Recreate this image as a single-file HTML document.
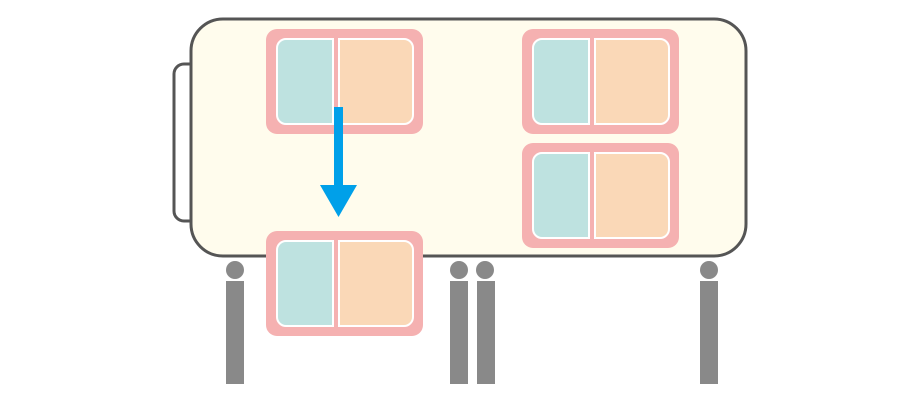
<!DOCTYPE html>
<html><head><meta charset="utf-8"><style>html,body{margin:0;padding:0;background:#fff}svg{display:block}</style></head>
<body>
<svg width="920" height="400" viewBox="0 0 920 400" xmlns="http://www.w3.org/2000/svg">
<defs>
<g id="box">
<rect x="0" y="0" width="157" height="105" rx="11" fill="#f5b1b1"/>
<path d="M67,10 V95 H20 A9,9 0 0 1 11,86 V19 A9,9 0 0 1 20,10 Z" fill="#bee2e0" stroke="#fff" stroke-width="2"/>
<path d="M73,10 H138 A9,9 0 0 1 147,19 V86 A9,9 0 0 1 138,95 H73 Z" fill="#fad8b7" stroke="#fff" stroke-width="2"/>
</g>
</defs>
<path d="M191,64 H184 A10,10 0 0 0 174,74 V211 A10,10 0 0 0 184,221 H191" fill="none" stroke="#555" stroke-width="3"/>
<rect x="191" y="19" width="555" height="237" rx="32" fill="#fffced" stroke="#555" stroke-width="3"/>
<use href="#box" x="266" y="29"/>
<use href="#box" x="522" y="29"/>
<use href="#box" x="522" y="143"/>
<use href="#box" x="266" y="231"/>
<rect x="334" y="107" width="9" height="79" fill="#00a0e9"/>
<polygon points="320,185 357,185 338.5,217" fill="#00a0e9"/>
<g fill="#898989">
<circle cx="235" cy="270" r="9"/><rect x="226" y="281" width="18" height="103"/>
<circle cx="459" cy="270" r="9"/><rect x="450" y="281" width="18" height="103"/>
<circle cx="485" cy="270" r="9"/><rect x="477" y="281" width="18" height="103"/>
<circle cx="709" cy="270" r="9"/><rect x="700" y="281" width="18" height="103"/>
</g>
</svg>
</body></html>
